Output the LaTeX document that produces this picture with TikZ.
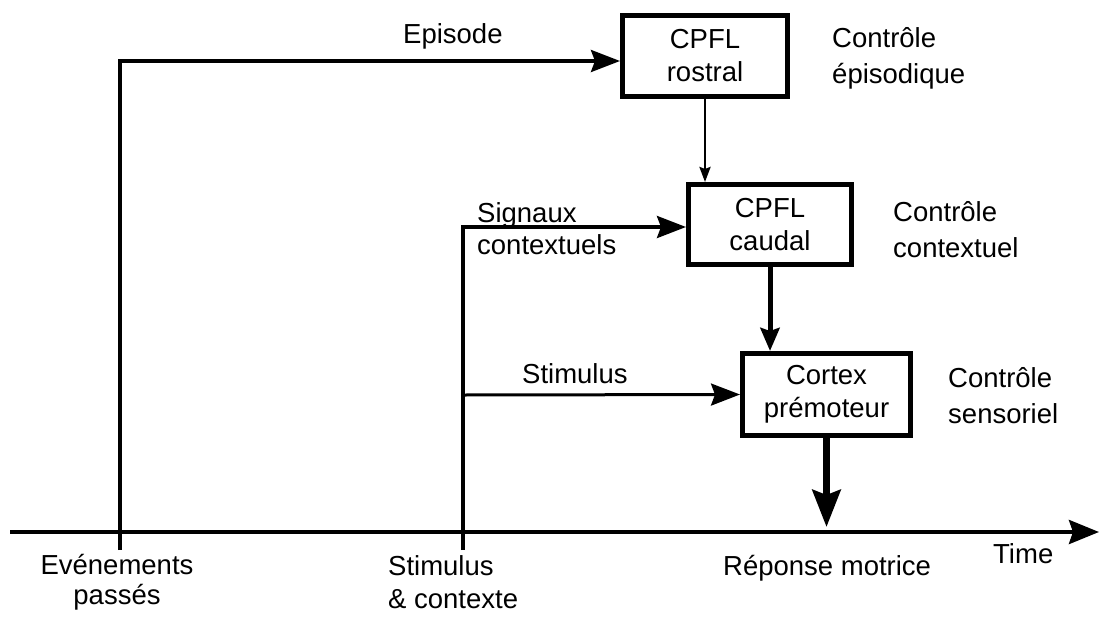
\documentclass[tikz,border=0pt]{standalone}
\usepackage{fontspec}
\setmainfont{Liberation Sans}
\usetikzlibrary{arrows.meta}
\begin{document}
\begin{tikzpicture}[x=1pt,y=-1pt,
  lbl/.style={inner sep=0pt, font=\fontsize{27.5}{34}\selectfont},
  ctl/.style={lbl, anchor=north west, align=left, font=\fontsize{27.5}{36}\selectfont},
  box/.style={draw, line width=5pt, inner sep=0pt, align=center, font=\fontsize{27.5}{33}\selectfont},
  bigtip/.style={-{Stealth[length=29pt,width=22pt,inset=4pt]}},
  link/.style={line width=3.5pt, bigtip}]
\useasboundingbox[fill=white] (0,0) rectangle (1100,616);
% boxes
\node[box, minimum width=165pt, minimum height=81pt] (rostral) at (705,56) {CPFL\\rostral};
\node[box, minimum width=163pt, minimum height=80pt] (caudal) at (770,224.5) {CPFL\\caudal};
\node[box, minimum width=168pt, minimum height=82pt] (cortex) at (826.5,394.5) {Cortex\\prémoteur};
% coordinates
\coordinate (ax0) at (10,532);
\coordinate (ax1) at (1099,532);
\coordinate (ev0) at (120,550);
\coordinate (sc0) at (463,550);
\coordinate (sc1) at (463,395);
\coordinate (resp) at (826.5,527);
% time axis
\draw[line width=4pt, -{Stealth[length=30pt,width=24pt,inset=4pt]}] (ax0) -- (ax1);
% inputs
\draw[link] (ev0) |- ([yshift=-5pt]rostral.west);
\draw[link] (sc0) |- ([yshift=-2.5pt]caudal.west);
\draw[line width=3pt, bigtip] (sc1) -- (cortex.west);
% hierarchy
\draw[line width=2.5pt, -{Stealth[length=15pt,width=11pt,inset=2pt]}] (rostral.south) -- (rostral.south |- caudal.north);
\draw[line width=5pt, -{Stealth[length=23pt,width=19pt,inset=3pt]}] (caudal.south) -- (caudal.south |- cortex.north);
\draw[line width=7pt, -{Stealth[length=37pt,width=28pt,inset=5pt]}] (cortex.south) -- (resp);
% labels
\node[lbl, anchor=base west] (episode) at (403,43) {Episode};
\node[lbl, anchor=north west, align=left, font=\fontsize{27.5}{32}\selectfont] (signaux) at (477,202) {Signaux\\contextuels};
\node[lbl, anchor=base west] (stim) at (522,383) {Stimulus};
\node[ctl] (c1) at (832,27) {Contrôle\\épisodique};
\node[ctl] (c2) at (893,201) {Contrôle\\contextuel};
\node[ctl] (c3) at (948,367) {Contrôle\\sensoriel};
\node[lbl, anchor=north, align=center, font=\fontsize{27.5}{30}\selectfont] (ev) at (117,554) {Evénements\\passés};
\node[lbl, anchor=north west, align=left, font=\fontsize{27.5}{33}\selectfont] (sc) at (388,555) {Stimulus\\\& contexte};
\node[lbl, anchor=base west] (rep) at (723,575) {Réponse motrice};
\node[lbl, anchor=base west] (time) at (993,563) {Time};
\end{tikzpicture}
\end{document}
